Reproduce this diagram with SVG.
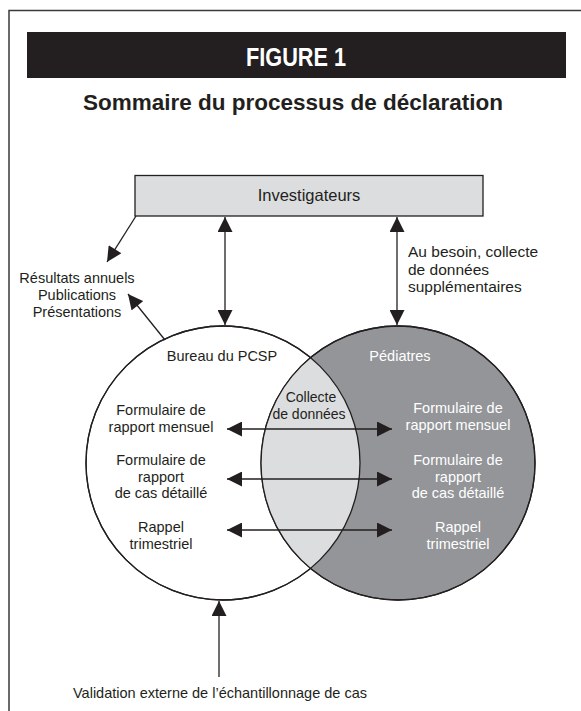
<svg xmlns="http://www.w3.org/2000/svg" width="581" height="711" viewBox="0 0 581 711">
  <style>
    text { font-family: "Liberation Sans", Arial, sans-serif; font-size: 14.5px; fill: #231f20; }
    .c { text-anchor: middle; }
    .w { fill: #ffffff; }
    .arr { stroke: #231f20; stroke-width: 1.3; fill: none; }
  </style>
  <defs>
    <marker id="ah" viewBox="0 0 16 16" refX="16" refY="8" markerWidth="16" markerHeight="15" markerUnits="userSpaceOnUse" orient="auto-start-reverse">
      <path d="M0,0 L16,8 L0,16 Z" fill="#231f20"/>
    </marker>
    <clipPath id="clipL"><circle cx="223" cy="463" r="137"/></clipPath>
  </defs>
  <rect width="581" height="711" fill="#ffffff"/>
  <!-- frame -->
  <path d="M9,711 V10.5 H581" stroke="#3a3a3a" stroke-width="1.5" fill="none"/>
  <!-- banner -->
  <g id="banner">
    <rect x="27" y="32" width="539" height="46" fill="#231f20"/>
    <text x="296" y="66" class="c w" style="font-size:25px;font-weight:bold" textLength="100" lengthAdjust="spacingAndGlyphs">FIGURE 1</text>
  </g>
  <g id="title">
    <text x="293" y="110" class="c" style="font-size:22.5px;font-weight:bold" textLength="420" lengthAdjust="spacingAndGlyphs">Sommaire du processus de déclaration</text>
  </g>
  <!-- circles -->
  <g id="bureau">
    <circle cx="223" cy="463" r="137" fill="#ffffff" stroke="#231f20" stroke-width="1.3"/>
  </g>
  <g id="pediatres">
    <circle cx="398" cy="463" r="137" fill="#939598" stroke="#231f20" stroke-width="1.3"/>
  </g>
  <g id="collecte">
    <circle cx="398" cy="463" r="137" fill="#dcdddf" clip-path="url(#clipL)"/>
    <circle cx="223" cy="463" r="137" fill="none" stroke="#231f20" stroke-width="1.3"/>
    <circle cx="398" cy="463" r="137" fill="none" stroke="#231f20" stroke-width="1.3"/>
  </g>
  <g id="investigateurs">
    <rect x="135" y="175.5" width="348" height="40.5" fill="#dcdddf" stroke="#231f20" stroke-width="1.3"/>
    <text x="309" y="201" class="c" style="font-size:16.5px">Investigateurs</text>
  </g>
  <!-- connectors -->
  <g id="connectors">
    <line class="arr" x1="136" y1="216" x2="107" y2="262" marker-end="url(#ah)"/>
    <line class="arr" x1="165" y1="340" x2="128" y2="294" marker-end="url(#ah)"/>
    <line class="arr" x1="225" y1="217" x2="225" y2="325" marker-start="url(#ah)" marker-end="url(#ah)"/>
    <line class="arr" x1="397" y1="217" x2="397" y2="325" marker-start="url(#ah)" marker-end="url(#ah)"/>
    <line class="arr" x1="227" y1="429" x2="392" y2="429" marker-start="url(#ah)" marker-end="url(#ah)"/>
    <line class="arr" x1="227" y1="479" x2="392" y2="479" marker-start="url(#ah)" marker-end="url(#ah)"/>
    <line class="arr" x1="227" y1="530" x2="392" y2="530" marker-start="url(#ah)" marker-end="url(#ah)"/>
    <line class="arr" x1="219" y1="677" x2="219" y2="601" marker-end="url(#ah)"/>
  </g>
  <!-- labels -->
  <g id="resultats">
    <text x="77" y="283" class="c">Résultats annuels</text>
    <text x="77" y="300" class="c">Publications</text>
    <text x="77" y="317" class="c">Présentations</text>
  </g>
  <g id="besoin">
    <text x="408" y="257" style="font-size:15.5px">Au besoin, collecte</text>
    <text x="408" y="275" style="font-size:15.5px">de données</text>
    <text x="408" y="292" style="font-size:15.5px">supplémentaires</text>
  </g>
  <g id="bureau-labels">
    <text x="222" y="361" class="c">Bureau du PCSP</text>
    <text x="161" y="415" class="c">Formulaire de</text>
    <text x="161" y="432" class="c">rapport mensuel</text>
    <text x="161" y="465" class="c">Formulaire de</text>
    <text x="161" y="482" class="c">rapport</text>
    <text x="161" y="498" class="c">de cas détaillé</text>
    <text x="161" y="532" class="c">Rappel</text>
    <text x="161" y="549" class="c">trimestriel</text>
  </g>
  <g id="collecte-labels">
    <text x="311" y="402" class="c" style="font-size:14px">Collecte</text>
    <text x="309" y="419" class="c" style="font-size:14px">de données</text>
  </g>
  <g id="pediatres-labels">
    <text x="400" y="361" class="c w">Pédiatres</text>
    <text x="458" y="413" class="c w">Formulaire de</text>
    <text x="458" y="430" class="c w">rapport mensuel</text>
    <text x="458" y="465" class="c w">Formulaire de</text>
    <text x="458" y="482" class="c w">rapport</text>
    <text x="458" y="498" class="c w">de cas détaillé</text>
    <text x="458" y="532" class="c w">Rappel</text>
    <text x="458" y="549" class="c w">trimestriel</text>
  </g>
  <g id="validation">
    <text x="220" y="698" class="c">Validation externe de l’échantillonnage de cas</text>
  </g>
</svg>
